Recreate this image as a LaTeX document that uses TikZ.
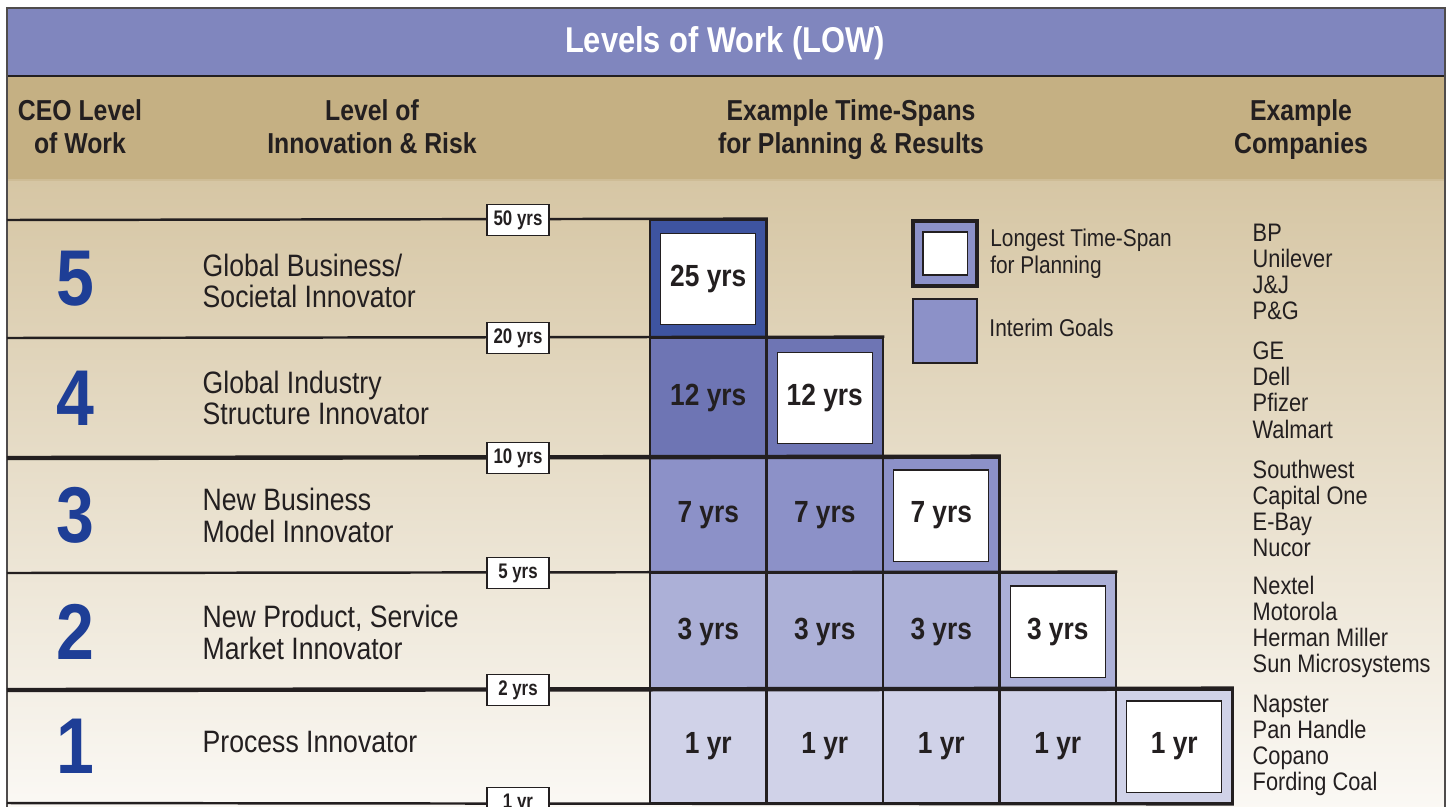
\documentclass[tikz,border=0pt]{standalone}
\usepackage{fontspec}
\setmainfont{Liberation Sans}[FakeStretch=0.86]
\newfontfamily\tagfont{Liberation Sans}[FakeStretch=0.8]
\usepackage{tikz}
\usetikzlibrary{positioning,calc}
\definecolor{lowblue}{RGB}{128,134,190}
\definecolor{headtan}{RGB}{197,176,131}
\definecolor{striptan}{RGB}{214,198,164}
\definecolor{paper}{RGB}{251,249,245}
\definecolor{ink}{RGB}{35,31,32}
\definecolor{levelblue}{RGB}{30,62,150}
\definecolor{goalfive}{RGB}{62,84,160}
\definecolor{goalfour}{RGB}{110,117,180}
\definecolor{goalthree}{RGB}{140,145,200}
\definecolor{goaltwo}{RGB}{172,176,215}
\definecolor{goalone}{RGB}{208,210,232}
\tikzset{
  colhead/.style={font=\fontsize{8.2}{9.4}\selectfont\bfseries,text=ink,align=center},
  levelnum/.style={font=\fontsize{22.5}{22.5}\selectfont\bfseries,text=levelblue},
  levelname/.style={font=\fontsize{8.8}{8.9}\selectfont,text=ink,align=left,anchor=west,inner sep=0pt},
  company/.style={font=\fontsize{7.2}{7.4}\selectfont,text=ink,align=left,anchor=west,inner sep=0pt},
  keytext/.style={font=\fontsize{6.9}{7.7}\selectfont,text=ink,align=left,anchor=west,inner sep=0pt},
  cell/.style={draw=ink,line width=0.75pt,minimum width=1.165cm,inner sep=0pt},
  spanbox/.style={draw=ink,fill=white,line width=0.3pt,minimum width=0.95cm,minimum height=0.91cm,inner sep=0pt,font=\fontsize{8.7}{9}\selectfont\bfseries,text=ink},
  goal/.style={font=\fontsize{8.7}{9}\selectfont\bfseries,text=ink},
  yrtag/.style={draw=ink,fill=white,line width=0.4pt,minimum width=0.62cm,minimum height=0.31cm,inner sep=0pt,font=\tagfont\fontsize{6}{6}\selectfont\bfseries,text=ink},
  levelrule/.style={draw=ink,line width=0.7pt},
  thickrule/.style={draw=ink,line width=1.25pt}
}

\begin{document}
\begin{tikzpicture}[x=0.01cm,y=-0.01cm]
  \useasboundingbox (0,0) rectangle (1449,806);
  \fill[white] (0,0) rectangle (1449,806);
  \shade[top color=striptan,bottom color=paper] (7,180) rectangle (1445,812);
  \fill[headtan] (7,76) rectangle (1445,180);
  \draw[headtan!85!white,line width=0.4pt] (7,180) -- (1445,180);
  \fill[lowblue] (7,8) rectangle (1445,76);
  \draw[ink,line width=0.6pt] (7,76) -- (1445,76);
  \draw[ink!80,line width=0.4pt] (7,812) |- (1445,8) -- (1445,812);

  \node[font=\fontsize{10.2}{12}\selectfont\bfseries,text=white] (title) at (725,43) {Levels of Work (LOW)};
  \node[colhead] (head-ceo) at (80,127) {CEO Level\\of Work};
  \node[colhead] (head-risk) at (372,127) {Level of\\Innovation \& Risk};
  \node[colhead] (head-span) at (851,130) {Example Time-Spans\\for Planning \& Results};
  \node[colhead] (head-comp) at (1301,130) {Example\\Companies};

  % staircase of time-spans, one row per level
  \foreach \lvl/\ya/\yb/\goalcol/\plan/\yrlabel/\rulestyle in {
      5/220/338/goalfive/25 yrs/50 yrs/levelrule,
      4/338/458/goalfour/12 yrs/20 yrs/levelrule,
      3/458/573/goalthree/7 yrs/10 yrs/thickrule,
      2/573/690/goaltwo/3 yrs/5 yrs/levelrule,
      1/690/803/goalone/1 yr/2 yrs/thickrule}{
    \pgfmathsetmacro\cy{(\ya+\yb)/2}
    \pgfmathsetmacro\h{(\yb-\ya)/100}
    \pgfmathtruncatemacro\n{6-\lvl}
    \foreach \i in {1,...,\n}{
      \pgfmathsetmacro\cx{708.25+(\i-1)*116.5}
      \node[cell,fill=\goalcol,minimum height=\h cm] (cell-\lvl-\i) at (\cx,\cy) {};
      \ifnum\i=\n
        \node[spanbox] (plan-\lvl) at (cell-\lvl-\i.center) {\plan};
      \else
        \node[goal] (goal-\lvl-\i) at (cell-\lvl-\i.center) {\plan};
      \fi
    }
    \coordinate (edge-\lvl) at (7,\ya);
    \draw[\rulestyle] (edge-\lvl) -- (cell-\lvl-\n.north east);
    \node[yrtag] (tag-\lvl) at (518,\ya) {\yrlabel};
    \node[levelnum] (num-\lvl) at (75,\cy) {\lvl};
  }
  \coordinate (edge-0) at (7,803);
  \draw[levelrule] (edge-0) -- (cell-1-5.south east);
  \node[yrtag] (tag-0) at (518,803) {1 yr};

  \foreach \lvl/\wy/\what/\who in {
      5/281/{Global Business/\\Societal Innovator}/{BP\\Unilever\\J\&J\\P\&G},
      4/398/{Global Industry\\Structure Innovator}/{GE\\Dell\\Pfizer\\Walmart},
      3/515.5/{New Business\\Model Innovator}/{Southwest\\Capital One\\E-Bay\\Nucor},
      2/632.5/{New Product, Service\\Market Innovator}/{Nextel\\Motorola\\Herman Miller\\Sun Microsystems},
      1/742/{Process Innovator}/{Napster\\Pan Handle\\Copano\\Fording Coal}}{
    \pgfmathsetmacro\cy{272+(5-\lvl)*118.25}
    \node[levelname] (what-\lvl) at (202,\wy) {\what};
    \node[company] (who-\lvl) at (1252,\cy) {\who};
  }

  % key
  \node[draw=ink,line width=0.9pt,fill=goalthree,minimum width=0.64cm,minimum height=0.65cm,inner sep=0pt] (key-plan) at (945,253.5) {};
  \node[draw=ink,fill=white,line width=0.3pt,minimum width=0.44cm,minimum height=0.43cm,inner sep=0pt] (key-plan-in) at (key-plan.center) {};
  \node[draw=ink,line width=0.4pt,fill=goalthree,minimum width=0.64cm,minimum height=0.64cm,inner sep=0pt] (key-goal) at (945,331) {};
  \node[keytext,right=0.11cm of key-plan] (key-plan-text) {Longest Time-Span\\for Planning};
  \node[keytext,right=0.11cm of key-goal,yshift=0.8pt] (key-goal-text) {Interim Goals};
\end{tikzpicture}
\end{document}
